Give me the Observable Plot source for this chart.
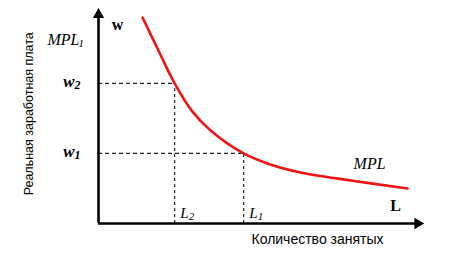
<!DOCTYPE html>
<html>
<head>
<meta charset="utf-8">
<script src="https://cdn.jsdelivr.net/npm/d3@7"></script>
<script src="https://cdn.jsdelivr.net/npm/@observablehq/plot@0.6"></script>
<style>
  html, body { margin: 0; padding: 0; background: #fff; }
  #chart svg { display: block; }
</style>
</head>
<body>
<div id="chart"></div>
<script>
// --- data: labour demand curve MPL (L = quantity of labour, w = real wage)
const curveL = [13.6, 18.5, 23.5, 29.0, 34.6, 44.8, 53.0, 62.3, 77.8, 95.4];
const curveW = [97.6, 82.0, 66.4, 53.0, 44.1, 33.2, 28.0, 24.2, 20.4, 16.6];

// equilibrium points on the curve
const wageLevels = [66.4, 33.2];      // w2, w1
const labourLevels = [23.5, 44.8];    // L2, L1
const wageNames = ["w", "w"];
const wageSubs = ["2", "1"];
const labourNames = ["L", "L"];
const labourSubs = ["2", "1"];

const axisMax = 100;
const yTitle = "Реальная заработная плата";
const xTitle = "Количество занятых";
const curveLabel = "MPL";
const interceptLabel = "MPL";
const interceptSub = "1";
const interceptLevel = 86.7;
const yAxisName = "w";
const xAxisName = "L";

const curve = curveL.map((L, i) => ({L, w: curveW[i]}));
const eq = wageLevels.map((w, i) => ({w, L: labourLevels[i], wn: wageNames[i], ws: wageSubs[i], ln: labourNames[i], ls: labourSubs[i]}));

const serif = "'Liberation Serif', 'DejaVu Serif', serif";
const sans = "'Liberation Sans', Arial, sans-serif";

const chart = Plot.plot({
  width: 468,
  height: 264,
  marginLeft: 98,
  marginRight: 46,
  marginTop: 12,
  marginBottom: 41,
  x: {domain: [0, axisMax], axis: null},
  y: {domain: [0, axisMax], axis: null},
  style: {background: "#fff", overflow: "visible"},
  marks: [
    // dashed guides
    Plot.ruleY(eq, {y: "w", x1: 0, x2: "L", stroke: "#222", strokeWidth: 1.2, strokeDasharray: "4,3"}),
    Plot.ruleX(eq, {x: "L", y1: 0, y2: "w", stroke: "#222", strokeWidth: 1.2, strokeDasharray: "3,3"}),
    // axes
    Plot.ruleX([0], {y1: 0, y2: axisMax - 2, stroke: "#000", strokeWidth: 2.6}),
    Plot.ruleY([0], {x1: 0, x2: axisMax - 2, stroke: "#000", strokeWidth: 2.6}),
    Plot.dot([0], {x: 0, y: axisMax - 1, symbol: "triangle", r: 4.2, fill: "#000", stroke: "none"}),
    Plot.dot([0], {x: axisMax - 1.5, y: 0, symbol: "triangle", r: 4.2, fill: "#000", stroke: "none", rotate: 90}),
    // MPL curve
    Plot.line(curve, {x: "L", y: "w", curve: "catmull-rom", stroke: "#f01414", strokeWidth: 2.6}),
    // wage labels
    Plot.text(eq, {x: 0, y: "w", text: "wn", dx: -24, dy: -2, textAnchor: "end", fontFamily: serif, fontStyle: "italic", fontWeight: "bold", fontSize: 17}),
    Plot.text(eq, {x: 0, y: "w", text: "ws", dx: -24, dy: 2, textAnchor: "start", fontFamily: serif, fontStyle: "italic", fontWeight: "bold", fontSize: 12}),
    // labour labels
    Plot.text(eq, {x: "L", y: 0, text: "ln", dx: 14, dy: -10, textAnchor: "end", fontFamily: serif, fontStyle: "italic", fontSize: 15}),
    Plot.text(eq, {x: "L", y: 0, text: "ls", dx: 14, dy: -7, textAnchor: "start", fontFamily: serif, fontStyle: "italic", fontSize: 11}),
    // intercept label MPL1
    Plot.text([interceptLabel], {x: 0, y: interceptLevel, text: d => d, dx: -19, dy: -1, textAnchor: "end", fontFamily: serif, fontStyle: "italic", fontSize: 16, letterSpacing: "2.5px"}),
    Plot.text([interceptSub], {x: 0, y: interceptLevel, text: d => d, dx: -20, dy: 3, textAnchor: "start", fontFamily: serif, fontStyle: "italic", fontSize: 11}),
    // axis names
    Plot.text([yAxisName], {x: 0, y: axisMax, text: d => d, dx: 19, dy: 12, fontFamily: serif, fontWeight: "bold", fontSize: 16}),
    Plot.text([xAxisName], {x: axisMax, y: 0, text: d => d, dx: -27, dy: -18, fontFamily: serif, fontWeight: "bold", fontSize: 16}),
    // curve label
    Plot.text([curveLabel], {x: curveL[curveL.length - 2], y: curveW[curveW.length - 2], text: d => d, dx: 3, dy: -17, textAnchor: "start", fontFamily: serif, fontStyle: "italic", fontSize: 16, letterSpacing: "2.5px"}),
    // axis titles
    Plot.text([xTitle], {frameAnchor: "bottom", x: 67.6, dy: 20, text: d => d, fontFamily: sans, fontSize: 14}),
    Plot.text([yTitle], {x: -21.6, y: 52, rotate: -90, textAnchor: "middle", text: d => d, fontFamily: sans, fontSize: 12.5})
  ]
});

document.getElementById("chart").appendChild(chart);
</script>
</body>
</html>
